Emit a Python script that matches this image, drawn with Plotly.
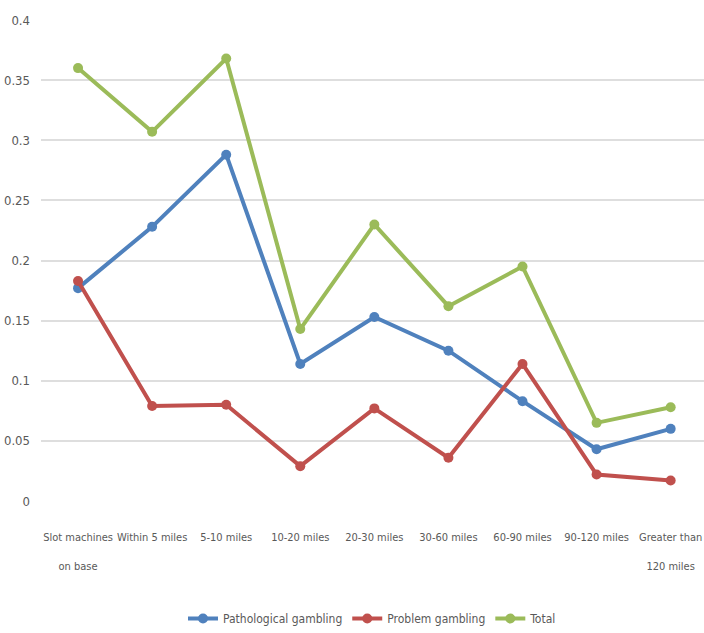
import plotly.graph_objects as go

categories = ["Slot machines<br><br>on base", "Within 5 miles", "5-10 miles", "10-20 miles",
              "20-30 miles", "30-60 miles", "60-90 miles", "90-120 miles", "Greater than<br><br>120 miles"]
pathological = [0.177, 0.228, 0.288, 0.114, 0.153, 0.125, 0.083, 0.043, 0.060]
problem = [0.183, 0.079, 0.080, 0.029, 0.077, 0.036, 0.114, 0.022, 0.017]
total = [0.360, 0.307, 0.368, 0.143, 0.230, 0.162, 0.195, 0.065, 0.078]
y_ticks = [0, 0.05, 0.1, 0.15, 0.2, 0.25, 0.3, 0.35, 0.4]
y_labels = ["0", "0.05", "0.1", "0.15", "0.2", "0.25", "0.3", "0.35", "0.4"]

series = [("Pathological gambling", pathological, "#4F81BD"),
          ("Problem gambling", problem, "#C0504D"),
          ("Total", total, "#9BBB59")]

font_family = "DejaVu Sans Condensed, Liberation Sans Narrow, sans-serif"

fig = go.Figure()
for name, vals, color in series:
    fig.add_trace(go.Scatter(x=categories, y=vals, name=name, mode="lines+markers",
                             line=dict(color=color, width=4),
                             marker=dict(color=color, size=10, symbol="circle")))

fig.update_layout(
    width=704, height=633,
    margin=dict(l=41, r=0, t=20, b=130),
    paper_bgcolor="white", plot_bgcolor="white",
    font=dict(family=font_family, size=12, color="#595959"),
    showlegend=True,
    legend=dict(orientation="h", x=0.5, xanchor="center", y=-0.245, yanchor="middle",
                font=dict(size=12, color="#595959"), itemwidth=30),
    xaxis=dict(type="category", showgrid=False, zeroline=False, showline=False,
               range=[-0.5, 8.45],
               ticks="", tickfont=dict(size=11), tickangle=0, ticklabelstandoff=28),
    yaxis=dict(range=[0, 0.4], tickvals=y_ticks, ticktext=y_labels,
               showgrid=True, gridcolor="#DEDEDE", gridwidth=2,
               zeroline=False, showline=False, ticks="", ticklabelstandoff=10,
               tickfont=dict(size=13)),
)

fig.write_html("out.html")
